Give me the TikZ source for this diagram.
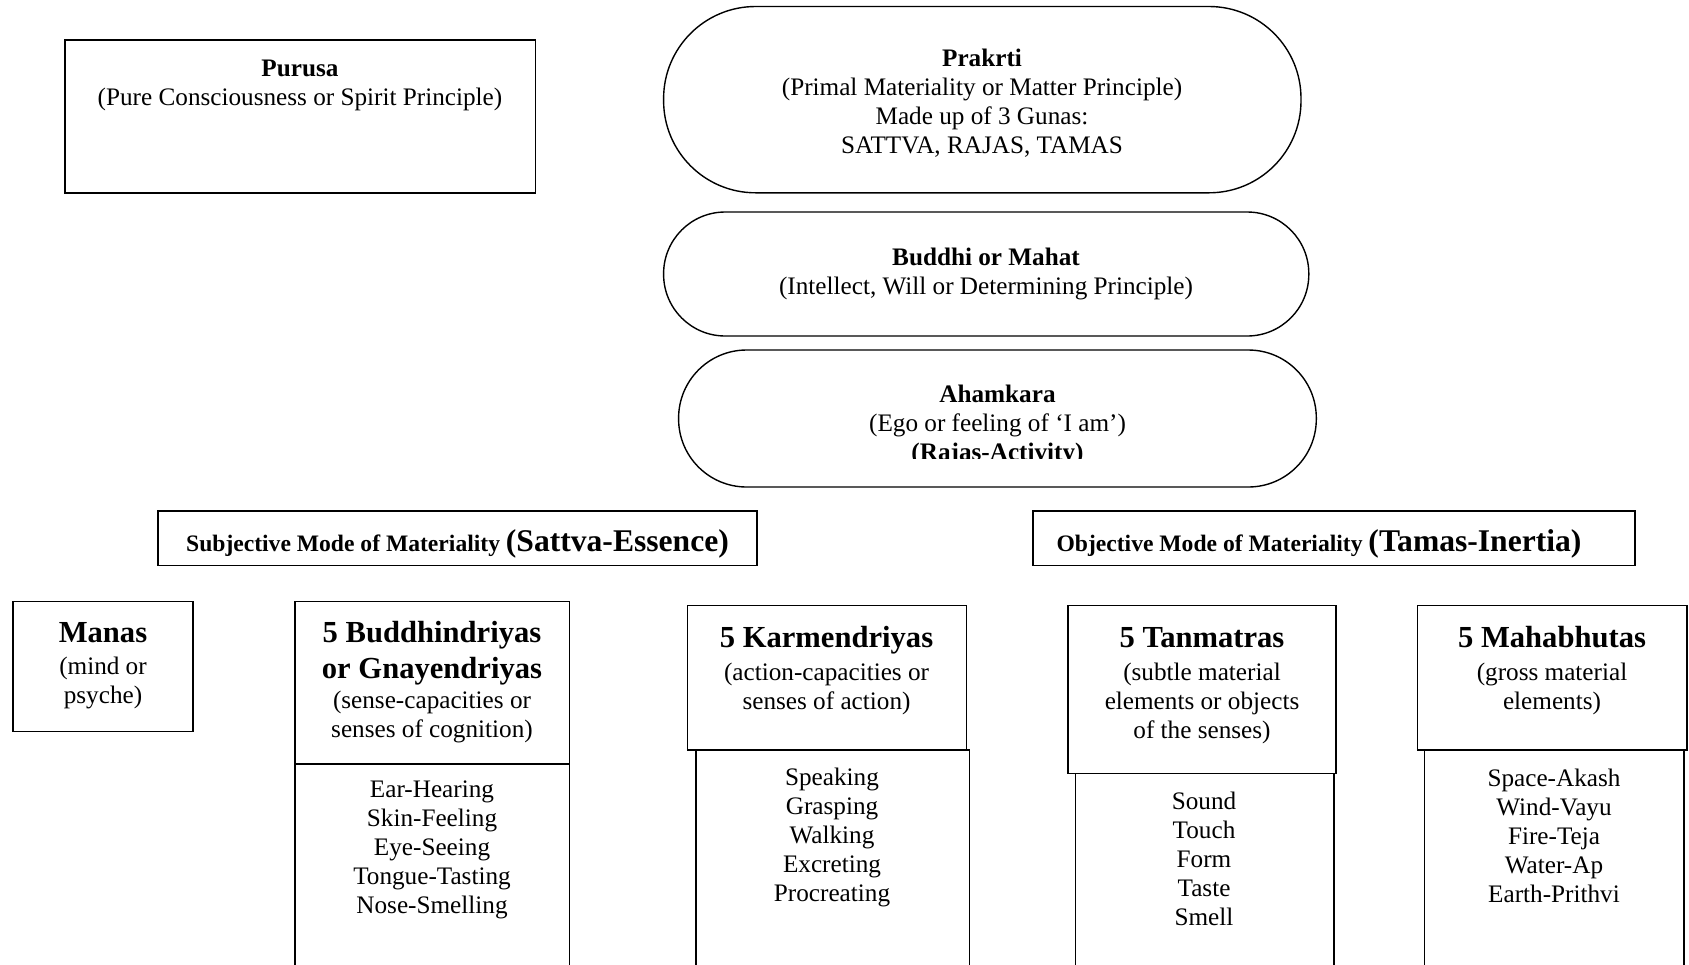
\documentclass[tikz,border=0pt]{standalone}
\usepackage{fontspec}
\setmainfont{Liberation Serif}
\usepackage{tikz}
\usetikzlibrary{positioning, fit}

\newcommand{\bighead}[1]{{\bfseries\fontsize{15.3}{17.7}\selectfont #1}}
\newcommand{\modehead}[1]{{\bfseries\fontsize{15.8}{17.7}\selectfont #1}}
\newcommand{\smallhead}[1]{{\bfseries\fontsize{11.8}{14}\selectfont #1}}

\begin{document}
\begin{tikzpicture}[x=0.5pt, y={(0pt,-0.5pt)}, font=\fontsize{12.6}{14.5}\selectfont,
    box/.style={draw, line width=0.9pt, inner sep=0pt},
    pill/.style={draw, line width=0.7pt, inner sep=0pt},
    txt/.style={align=center, inner sep=0pt}]
    \useasboundingbox (0,0) rectangle (1689,964);

    \node[box, fit={(64.6,40) (535.4,192.8)}] (purusa) {};
    \node[txt] (purusatxt) at (300,85.5) {\textbf{Purusa}\\(Pure Consciousness or Spirit Principle)};

    \node[pill, rounded corners=46pt, fit={(663.6,6.5) (1301,192.8)}] (prakrti) {};
    \node[txt] (prakrtitxt) at (982,103.5) {\textbf{Prakrti}\\(Primal Materiality or Matter Principle)\\Made up of 3 Gunas:\\SATTVA, RAJAS, TAMAS};

    \node[pill, rounded corners=30.8pt, fit={(663.6,212) (1308.8,336)}] (buddhi) {};
    \node[txt] (buddhitxt) at (986,273.5) {\textbf{Buddhi or Mahat}\\(Intellect, Will or Determining Principle)};

    \node[pill, rounded corners=34pt, fit={(678.6,350) (1316.3,487)}] (ahamkara) {};
    \begin{scope}
        \clip (700,360) rectangle (1300,458);
        \node[txt] (ahamkaratxt) at (997.5,425.5) {\textbf{Ahamkara}\\(Ego or feeling of ‘I am’)\\\textbf{(Rajas-Activity)}};
    \end{scope}

    \node[box, fit={(158,510.6) (757,565.5)}] (subj) {};
    \node[txt] (subjtxt) at (457.5,544) {\smallhead{Subjective Mode of Materiality }\modehead{(Sattva-Essence)}};
    \node[box, fit={(1033,510.6) (1635,565.5)}] (obj) {};
    \node[txt] (objtxt) at (1319,544) {\smallhead{Objective Mode of Materiality }\modehead{(Tamas-Inertia)}};

    \node[box, fit={(13,601.5) (193,731.5)}] (manas) {};
    \node[txt] (manastxt) at (103,665.5) {\bighead{Manas}\\[1.5pt](mind or\\psyche)};

    \node[box, fit={(295,601.5) (569.5,764)}] (buddh) {};
    \node[txt] (buddhtxt) at (432,682.5) {\bighead{5 Buddhindriyas}\\[3.5pt]\bighead{or Gnayendriyas}\\[0.5pt](sense-capacities or\\senses of cognition)};
    \node[box, fit={(295,764) (569.5,985)}] (buddhlist) {};
    \node[txt] (buddhlisttxt) at (432,849.5) {Ear-Hearing\\Skin-Feeling\\Eye-Seeing\\Tongue-Tasting\\Nose-Smelling};

    \node[box, fit={(687.5,605.5) (966.5,750)}] (karm) {};
    \node[txt] (karmtxt) at (826.5,670.5) {\bighead{5 Karmendriyas}\\[1.7pt](action-capacities or\\senses of action)};
    \node[box, fit={(696,750) (969.5,985)}] (karmlist) {};
    \node[txt] (karmlisttxt) at (832,837) {Speaking\\Grasping\\Walking\\Excreting\\Procreating};

    \node[box, fit={(1068,605.5) (1336,773.5)}] (tanm) {};
    \node[txt] (tanmtxt) at (1202,685.5) {\bighead{5 Tanmatras}\\[1.7pt](subtle material\\elements or objects\\of the senses)};
    \node[box, fit={(1075.5,773.5) (1334,985)}] (tanmlist) {};
    \node[txt] (tanmlisttxt) at (1204,859) {Sound\\Touch\\Form\\Taste\\Smell};

    \node[box, fit={(1417.5,605.5) (1687,750)}] (maha) {};
    \node[txt] (mahatxt) at (1552,670.5) {\bighead{5 Mahabhutas}\\[1.7pt](gross material\\elements)};
    \node[box, fit={(1424.5,750) (1684,985)}] (mahalist) {};
    \node[txt] (mahalisttxt) at (1554,835.5) {Space-Akash\\Wind-Vayu\\Fire-Teja\\Water-Ap\\Earth-Prithvi};
\end{tikzpicture}
\end{document}
